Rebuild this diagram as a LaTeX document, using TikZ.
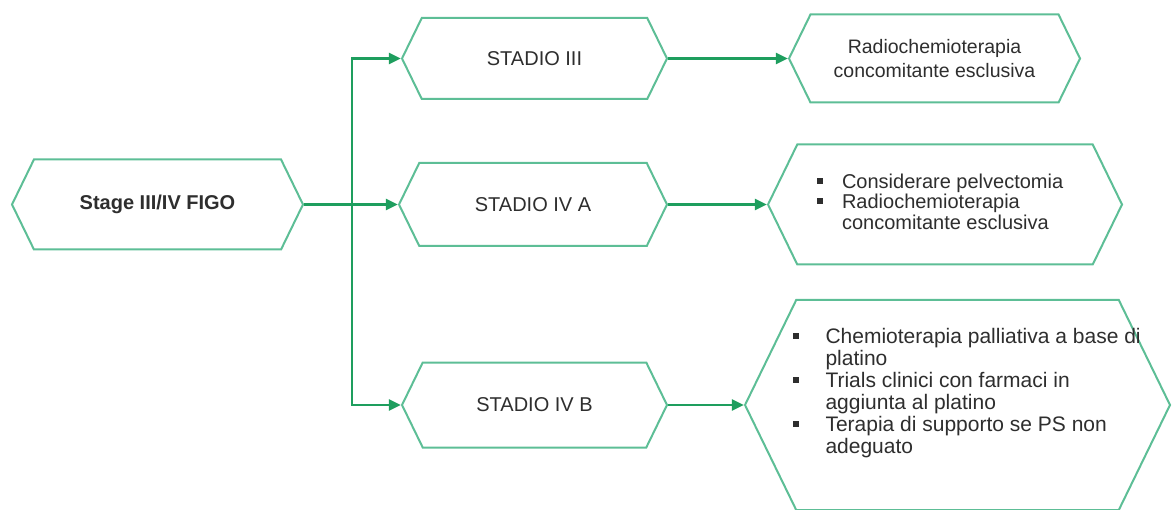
\documentclass[tikz,border=0pt]{standalone}
\usepackage{fontspec}
\setmainfont{Liberation Sans}
\usetikzlibrary{shapes.symbols,arrows.meta}
\definecolor{boxc}{HTML}{5DBE96}
\definecolor{arrc}{HTML}{1E9E5E}
\definecolor{txtc}{HTML}{2E2E2E}
\newcommand\sqb{\makebox[25pt][l]{\rule[4.5pt]{6pt}{6pt}}}
\newcommand\sqbb{\makebox[33pt][l]{\rule[4.5pt]{6pt}{6pt}}}
\newcommand\ind{\hspace*{25pt}}
\newcommand\indd{\hspace*{33pt}}
\begin{document}
\begin{tikzpicture}[x=1pt,y=-1pt,
  hexbox/.style={shape=signal, signal to=east and west, signal pointer angle=128,
    draw=boxc, line width=2pt, fill=white, text=txtc, inner sep=0pt,
    font=\fontsize{20}{22}\selectfont},
  conn/.style={draw=arrc, line width=2.2pt, -{Triangle[length=12pt,width=11pt]}}
]
\useasboundingbox (0,0) rectangle (1172,510);
\node[hexbox, minimum width=291pt, minimum height=90pt, font=\bfseries\fontsize{20}{22}\selectfont] (stage) at (157.5,204.5) {Stage III/IV FIGO};
\node[hexbox, minimum width=265pt, minimum height=81pt] (s3) at (534.5,58.5) {STADIO III};
\node[hexbox, minimum width=268pt, minimum height=83pt] (s4a) at (533,204.5) {STADIO IV A};
\node[hexbox, minimum width=265pt, minimum height=85pt] (s4b) at (534.5,405) {STADIO IV B};
\node[hexbox, minimum width=291pt, minimum height=88pt, align=center, font=\fontsize{19.5}{24}\selectfont] (r1) at (934.5,58.5) {Radiochemioterapia\\concomitante esclusiva};
\node[hexbox, minimum width=354pt, minimum height=120pt, font=\fontsize{20}{20}\selectfont] (r2) at (945,204.5)
  {\makebox[256pt][l]{\raisebox{2pt}{\begin{tabular}{@{}l@{}}\sqb Considerare pelvectomia\\\sqb Radiochemioterapia\\\ind concomitante esclusiva\end{tabular}}}};
\node[hexbox, minimum width=425pt, minimum height=210pt, font=\fontsize{21}{22}\selectfont] (r3) at (957.5,405)
  {\makebox[300pt][l]{\hspace*{-15pt}\raisebox{6pt}[0pt][0pt]{\begin{tabular}{@{}l@{}}\sqbb Chemioterapia palliativa a base di\\\indd platino\\\sqbb Trials clinici con farmaci in\\\indd aggiunta al platino\\\sqbb Terapia di supporto se PS non\\\indd adeguato\end{tabular}}}};
\coordinate (j) at (352,204.5);
\draw[conn] (stage.east) -- (s4a.west);
\draw[conn] (j) |- (s3.west);
\draw[conn] (j) |- (s4b.west);
\draw[conn] (s3.east) -- (r1.west);
\draw[conn] (s4a.east) -- (r2.west);
\draw[conn] (s4b.east) -- (r3.west);
\end{tikzpicture}
\end{document}
